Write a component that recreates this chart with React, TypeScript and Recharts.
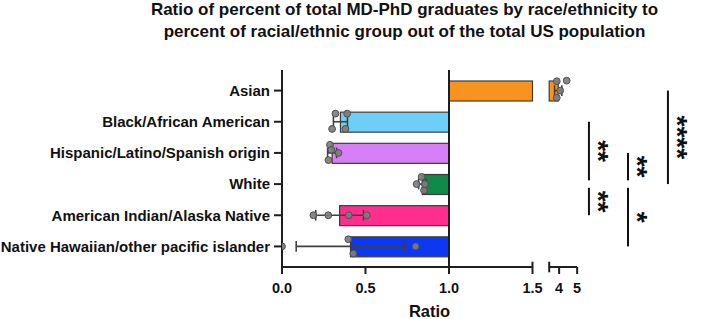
import React from 'react';
import { ComposedChart, Bar, Cell, Scatter, XAxis, YAxis, ReferenceLine, ReferenceDot, Label } from 'recharts';

// ---------- data ----------
const categories = [
  'Asian',
  'Black/African American',
  'Hispanic/Latino/Spanish origin',
  'White',
  'American Indian/Alaska Native',
  'Native Hawaiian/other pacific islander',
];
const barColors = ['#F7931E', '#6DCFF8', '#D67FF6', '#108A48', '#FF2D8E', '#0B38F0'];
const meanRatio = [3.95, 0.35, 0.3, 0.84, 0.345, 0.41];
const sdRatio = [0.2, 0.042, 0.027, 0.022, 0.143, 0.325];
const pointValues = [
  [3.87, 3.87, 4.06, 4.42],
  [0.32, 0.39, 0.3, 0.38],
  [0.287, 0.338, 0.278, 0.295],
  [0.836, 0.806, 0.85, 0.856],
  [0.188, 0.277, 0.4, 0.507],
  [0.0, 0.397, 0.427, 0.8],
];
const pointJitter = [
  [-0.3, 0.23, 0, -0.32],
  [-0.26, -0.26, 0.23, 0.23],
  [-0.26, 0, 0.23, -0.1],
  [-0.23, 0, 0.2, 0.0],
  [0, 0, 0, 0],
  [0, -0.23, 0.23, 0],
];
const comparisons = [
  { from: 1, to: 3, stars: '**', col: 0 },
  { from: 3, to: 4, stars: '**', col: 0 },
  { from: 2, to: 3, stars: '**', col: 1 },
  { from: 3, to: 5, stars: '*', col: 1 },
  { from: 0, to: 3, stars: '****', col: 2 },
];
const tickValues = [0, 0.5, 1, 1.5, 4, 5];
const tickLabels = ['0.0', '0.5', '1.0', '1.5', '4', '5'];
const BASELINE = 1;

// ---------- broken axis transform ----------
const BREAK_LO = 1.5;
const BREAK_HI = 3.45;
const GAP = 0.1;
const SEG2_SCALE = 0.108;
const toAxis = (v: number) => (v <= BREAK_LO ? v : BREAK_LO + GAP + (v - BREAK_HI) * SEG2_SCALE);
const X_MAX = 2.5;

// ---------- layout ----------
const W = 707;
const H = 319;
const M_TOP = 70;
const Y_AXIS_W = 282;
const M_RIGHT = W - Y_AXIS_W - X_MAX * 167;
const X_AXIS_H = 52;
const Y_PAD = 5;
const PLOT_H = H - M_TOP - X_AXIS_H;
const BAND = (PLOT_H - 2 * Y_PAD) / categories.length;
const Y_BOTTOM = categories.length - 0.5 + Y_PAD / BAND;
const Y_TOP = -0.5 - Y_PAD / BAND;
const BRACKET_X = [1.838, 2.072, 2.311];
const STAR_DX = 0.088;
const AXIS_COLOR = '#1e1e1e';
const FONT = '"Liberation Sans", Arial, Helvetica, sans-serif';

const tableData = categories.map((name, i) => {
  const m = toAxis(meanRatio[i]);
  return { name, range: m >= BASELINE ? [BASELINE, m] : [m, BASELINE] };
});
const pointData = pointValues.flatMap((vals, i) => vals.map((v, j) => ({ x: toAxis(v), y: i + pointJitter[i][j] })));

const BarShape = (props: any) => {
  const { x, y, width, height, fill, payload } = props;
  const [lo, hi] = payload.range;
  const common = { fill, stroke: '#3c3c3c', strokeWidth: 1.2 };
  if (lo < BREAK_LO && hi > BREAK_LO + GAP) {
    const ppu = width / (hi - lo);
    const x1 = x + (BREAK_LO - lo) * ppu;
    const x2 = x + (BREAK_LO + GAP - lo) * ppu;
    return (
      <g>
        <rect x={x} y={y} width={x1 - x} height={height} {...common} />
        <rect x={x2} y={y} width={x + width - x2} height={height} {...common} />
      </g>
    );
  }
  return <rect x={x} y={y} width={width} height={height} {...common} />;
};

const PointShape = (props: any) => (
  <circle cx={props.cx} cy={props.cy} r={3.4} fill="#7d7d7d" fillOpacity={0.92} stroke="#505050" strokeWidth={1} />
);

const StarLabel = (text: string) => (p: any) => {
  const vb = p.viewBox || {};
  const cx = vb.x + (vb.width || 0) / 2;
  const cy = vb.y + (vb.height || 0) / 2;
  return (
    <text
      x={cx}
      y={cy}
      dy="0.52em"
      transform={`rotate(90, ${cx}, ${cy})`}
      textAnchor="middle"
      fontSize={28}
      fontWeight="bold"
      fill="#111"
      fontFamily={FONT}
    >
      {text}
    </text>
  );
};

const RatioLabel = (p: any) => {
  const vb = p.viewBox || {};
  const cx = vb.x + (vb.width * (toAxis(5) / X_MAX)) / 2;
  return (
    <text x={cx} y={vb.y + vb.height - 2} textAnchor="middle" fontSize={16.5} fontWeight="bold" fill="#111" fontFamily={FONT}>
      Ratio
    </text>
  );
};

export default function App() {
  const errColor = '#404040';
  const capHalf = 0.17;
  const tk = 0.17;
  const trims = comparisons.map((c) => {
    const shared = (v: number) => comparisons.some((o) => o !== c && o.col === c.col && (o.from === v || o.to === v));
    return [c.from + (shared(c.from) ? 0.12 : 0), c.to - (shared(c.to) ? 0.12 : 0)];
  });
  const seg = (key: string, x1: number, y1: number, x2: number, y2: number, stroke: string, sw: number) => (
    <ReferenceLine key={key} stroke={stroke} strokeWidth={sw} ifOverflow="visible"
      segment={[{ x: x1, y: y1 }, { x: x2, y: y2 }]} />
  );
  return (
    <div style={{ position: 'absolute', left: 0, top: 0, width: W, height: H, background: '#fff', fontFamily: FONT }}>
      {/* bars, category axis, x ticks */}
      <div style={{ position: 'absolute', left: 0, top: 0 }}>
        <ComposedChart
          width={W}
          height={H}
          layout="vertical"
          data={tableData}
          margin={{ top: M_TOP, right: M_RIGHT, bottom: 0, left: 0 }}
        >
          <XAxis
            type="number"
            domain={[0, X_MAX]}
            allowDataOverflow
            ticks={tickValues.map(toAxis)}
            tickFormatter={(v: number, i: number) => tickLabels[i]}
            axisLine={false}
            tickLine={{ stroke: AXIS_COLOR, strokeWidth: 2 }}
            tickSize={7}
            tickMargin={9}
            height={X_AXIS_H}
            interval={0}
            tick={{ fontSize: 14.5, fontWeight: 'bold', fill: '#111', fontFamily: FONT }}
          >
            <Label content={RatioLabel} />
          </XAxis>
          <YAxis
            type="category"
            dataKey="name"
            width={Y_AXIS_W}
            padding={{ top: Y_PAD, bottom: Y_PAD }}
            axisLine={{ stroke: AXIS_COLOR, strokeWidth: 2 }}
            tickLine={{ stroke: AXIS_COLOR, strokeWidth: 2 }}
            tickSize={8}
            tickMargin={4}
            interval={0}
            tick={{ fontSize: 15, fontWeight: 'bold', fill: '#111', fontFamily: FONT }}
          />
          <Bar dataKey="range" barSize={20} isAnimationActive={false} shape={BarShape}>
            {tableData.map((d, i) => (
              <Cell key={d.name} fill={barColors[i]} />
            ))}
          </Bar>
        </ComposedChart>
      </div>

      {/* overlay: points, error bars, axis line, brackets (same plot area, numeric rows) */}
      <div style={{ position: 'absolute', left: 0, top: 0, pointerEvents: 'none' }}>
        <ComposedChart width={W} height={H} margin={{ top: M_TOP, right: M_RIGHT, bottom: X_AXIS_H, left: Y_AXIS_W }}>
          <XAxis type="number" dataKey="x" domain={[0, X_MAX]} hide allowDataOverflow />
          <YAxis
            type="number"
            dataKey="y"
            domain={[-0.5, categories.length - 0.5]}
            reversed
            hide
            allowDataOverflow
            padding={{ top: Y_PAD, bottom: Y_PAD }}
          />
          {/* baseline at ratio 1 */}
          {seg('base', BASELINE, Y_TOP, BASELINE, Y_BOTTOM, AXIS_COLOR, 2)}
          {/* broken x axis */}
          {seg('ax1', 0, Y_BOTTOM, BREAK_LO, Y_BOTTOM, AXIS_COLOR, 2)}
          {seg('ax2', BREAK_LO + GAP, Y_BOTTOM, toAxis(5), Y_BOTTOM, AXIS_COLOR, 2)}
          {seg('br1', BREAK_LO, Y_BOTTOM - tk, BREAK_LO, Y_BOTTOM, AXIS_COLOR, 2)}
          {seg('br2', BREAK_LO + GAP, Y_BOTTOM - tk, BREAK_LO + GAP, Y_BOTTOM + tk, AXIS_COLOR, 2)}

          {/* error bars (mean ± SD) */}
          {categories.flatMap((c, i) => {
            const lo = toAxis(meanRatio[i] - sdRatio[i]);
            const hi = toAxis(meanRatio[i] + sdRatio[i]);
            return [
              seg(`e${i}`, lo, i, hi, i, errColor, 1.6),
              seg(`el${i}`, lo, i - capHalf, lo, i + capHalf, errColor, 1.6),
              seg(`eh${i}`, hi, i - capHalf, hi, i + capHalf, errColor, 1.6),
            ];
          })}

          <Scatter data={pointData} isAnimationActive={false} shape={PointShape} />

          {/* significance brackets */}
          {comparisons.map((c, k) => seg(`b${k}`, BRACKET_X[c.col], trims[k][0], BRACKET_X[c.col], trims[k][1], '#111', 2))}
          {comparisons.map((c, k) => (
            <ReferenceDot key={`s${k}`} x={BRACKET_X[c.col] + STAR_DX} y={(trims[k][0] + trims[k][1]) / 2}
              r={0} fill="none" stroke="none" ifOverflow="visible" label={StarLabel(c.stars)} />
          ))}
        </ComposedChart>
      </div>

      <div
        style={{
          position: 'absolute',
          left: 404.5,
          top: -1,
          transform: 'translateX(-50%)',
          whiteSpace: 'nowrap',
          textAlign: 'center',
          fontSize: 17,
          lineHeight: '22px',
          fontWeight: 'bold',
          color: '#111',
          fontFamily: FONT,
        }}
      >
        Ratio of percent of total MD-PhD graduates by race/ethnicity to
        <br />
        percent of racial/ethnic group out of the total US population
      </div>
    </div>
  );
}
